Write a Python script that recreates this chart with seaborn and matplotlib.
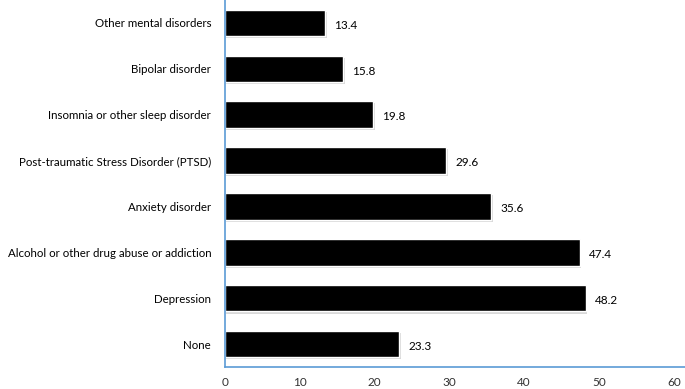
import seaborn as sns
import matplotlib.pyplot as plt
import matplotlib.patheffects as pe
import pandas as pd

categories = [
    "Other mental disorders",
    "Bipolar disorder",
    "Insomnia or other sleep disorder",
    "Post-traumatic Stress Disorder (PTSD)",
    "Anxiety disorder",
    "Alcohol or other drug abuse or addiction",
    "Depression",
    "None",
]
values = [13.4, 15.8, 19.8, 29.6, 35.6, 47.4, 48.2, 23.3]
x_ticks = [0, 10, 20, 30, 40, 50, 60]

df = pd.DataFrame({"category": categories, "value": values})

sns.set_style("white")
plt.rcParams["font.family"] = ["Lato", "DejaVu Sans"]

fig = plt.figure(figsize=(6.85, 3.89), dpi=100)
ax = fig.add_axes([0.3285, 0.0566, 0.6715, 0.9434])

sns.barplot(data=df, x="value", y="category", color="black", width=0.58,
            saturation=1, ax=ax, orient="h")

for bar in ax.patches:
    bar.set_path_effects([pe.SimplePatchShadow(offset=(1, -1.5), alpha=0.15),
                          pe.Normal()])

for i, v in enumerate(values):
    ax.text(v + 1.2, i + 0.05, f"{v:.1f}", va="center", ha="left", fontsize=8.5,
            color="black")

ax.set_xlim(0, 61.5)
ax.set_ylim(7.5, -0.5)
ax.set_xticks(x_ticks)
ax.set_xticklabels([str(t) for t in x_ticks], fontsize=8.5, color="#333333")
ax.tick_params(axis="y", labelsize=8.3, length=0, pad=10, colors="black")
ax.tick_params(axis="x", length=0, pad=7)
ax.set_xlabel("")
ax.set_ylabel("")

for side in ["top", "right"]:
    ax.spines[side].set_visible(False)
for side in ["left", "bottom"]:
    ax.spines[side].set_color("#5B9BD5")
    ax.spines[side].set_linewidth(1.2)

fig.savefig("out.png", dpi=100)
